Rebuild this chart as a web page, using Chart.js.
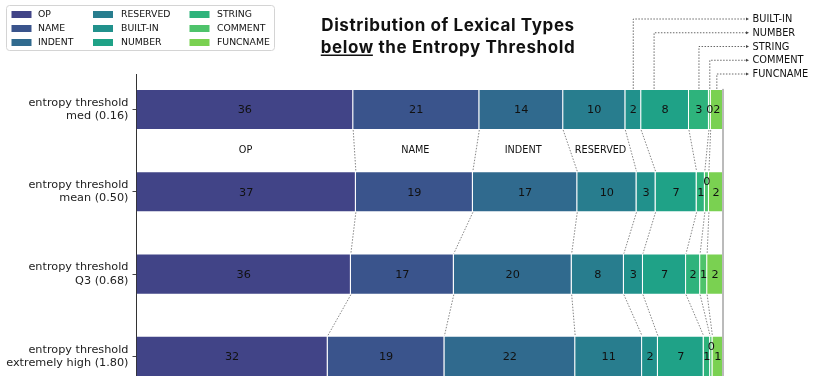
<!DOCTYPE html>
<html>
<head>
<meta charset="utf-8">
<script src="https://cdn.jsdelivr.net/npm/chart.js@4.4.1/dist/chart.umd.min.js"></script>
<style>
  html, body { margin: 0; padding: 0; background: #fff; }
  #wrap { width: 830px; height: 376px; }
</style>
</head>
<body>
<div id="wrap"><canvas id="chart" width="830" height="376"></canvas></div>
<script>
// rows of the chart (top to bottom)
const thresholds = [
  ["entropy threshold", "med (0.16)"],
  ["entropy threshold", "mean (0.50)"],
  ["entropy threshold", "Q3 (0.68)"],
  ["entropy threshold", "extremely high (1.80)"],
];

const tokenTypes = ["OP", "NAME", "INDENT", "RESERVED", "BUILT-IN", "NUMBER", "STRING", "COMMENT", "FUNCNAME"];

// share (%) of each lexical type, one value per threshold row
const opShare       = [36.95, 37.4, 36.55, 32.6];
const nameShare     = [21.5, 19.95, 17.55, 19.9];
const indentShare   = [14.3, 17.8, 20.1, 22.3];
const reservedShare = [10.6, 10.1, 8.9, 11.4];
const builtinShare  = [2.7, 3.25, 3.25, 2.7];
const numberShare   = [8.15, 7.0, 7.35, 7.8];
const stringShare   = [3.4, 1.4, 2.4, 1.1];
const commentShare  = [0.3, 0.7, 1.2, 0.4];
const funcnameShare = [2.1, 2.4, 2.7, 1.8];

const shares = [opShare, nameShare, indentShare, reservedShare, builtinShare,
                numberShare, stringShare, commentShare, funcnameShare];

// viridis, 0.2 -> 0.8
const typeColors = ["#414487", "#3a548c", "#306a8e", "#287d8e", "#21918c",
                    "#1fa287", "#2eb37c", "#4ec36b", "#7ad151"];

const labelFont = "DejaVu Sans";

// big types get a label in the gap, small ones get a callout on the right
const gapLabelTypes = 4;
const calloutShift = { NUMBER: -11 };

const annotatePlugin = {
  id: "annotate",
  afterDatasetsDraw(chart) {
    const ctx = chart.ctx;
    const metas = chart.data.datasets.map((_, k) => chart.getDatasetMeta(k));
    const bar = (k, i) => metas[k].data[i].getProps(["x", "y", "base", "height"], true);

    ctx.save();

    // dotted connectors between segment boundaries of consecutive rows
    ctx.strokeStyle = "#666";
    ctx.lineWidth = 0.8;
    ctx.setLineDash([1.5, 1.5]);
    for (let i = 0; i < thresholds.length - 1; i++) {
      for (let k = 0; k < tokenTypes.length - 1; k++) {
        const a = bar(k, i), b = bar(k, i + 1);
        ctx.beginPath();
        ctx.moveTo(a.x, a.y + a.height / 2);
        ctx.lineTo(b.x, b.y - b.height / 2);
        ctx.stroke();
      }
    }

    // vertical line at 100%
    const top = bar(0, 0);
    ctx.setLineDash([]);
    ctx.strokeStyle = "#777";
    ctx.lineWidth = 1;
    const xEnd = chart.scales.x.getPixelForValue(100);
    ctx.beginPath();
    ctx.moveTo(xEnd, top.y - top.height / 2);
    ctx.lineTo(xEnd, chart.chartArea.bottom);
    ctx.stroke();

    // value labels (truncated), lifted when they would collide
    ctx.font = "11.25px '" + labelFont + "'";
    ctx.fillStyle = "#111";
    ctx.textAlign = "center";
    ctx.textBaseline = "middle";
    for (let i = 0; i < thresholds.length; i++) {
      let prevRight = -Infinity;
      for (let k = 0; k < tokenTypes.length; k++) {
        const b = bar(k, i);
        const text = String(Math.floor(shares[k][i]));
        const cx = (b.base + b.x) / 2;
        const w = ctx.measureText(text).width;
        if (cx - w / 2 < prevRight - 0.5) {
          ctx.fillText(text, cx, b.y - 9.5);
        } else {
          ctx.fillText(text, cx, b.y + 1);
          prevRight = cx + w / 2;
        }
      }
    }

    // type names in the gap under the first row
    ctx.font = "9.7px '" + labelFont + "'";
    for (let k = 0; k < gapLabelTypes; k++) {
      const a = bar(k, 0), b = bar(k, 1);
      const cx = ((a.base + a.x) / 2 + (b.base + b.x) / 2) / 2;
      const cy = ((a.y + a.height / 2) + (b.y - b.height / 2)) / 2;
      ctx.fillText(tokenTypes[k], cx, cy);
    }

    // callouts for the small types
    ctx.textAlign = "left";
    ctx.font = "9.8px '" + labelFont + "'";
    const arrowX = 749;
    for (let k = gapLabelTypes; k < tokenTypes.length; k++) {
      const j = k - gapLabelTypes;
      const b = bar(k, 0);
      const ax = (b.base + b.x) / 2 + (calloutShift[tokenTypes[k]] || 0);
      const ly = 19 + j * 13.75;
      ctx.strokeStyle = "#444";
      ctx.lineWidth = 0.8;
      ctx.setLineDash([1.5, 1.5]);
      ctx.beginPath();
      ctx.moveTo(ax, b.y - b.height / 2);
      ctx.lineTo(ax, ly);
      ctx.lineTo(arrowX - 2, ly);
      ctx.stroke();
      ctx.setLineDash([]);
      ctx.fillStyle = "#444";
      ctx.beginPath();
      ctx.moveTo(arrowX, ly);
      ctx.lineTo(arrowX - 3, ly - 1.6);
      ctx.lineTo(arrowX - 3, ly + 1.6);
      ctx.closePath();
      ctx.fill();
      ctx.fillStyle = "#111";
      ctx.fillText(tokenTypes[k], arrowX + 3.5, ly + 0.5);
    }

    ctx.restore();
  },
  afterDraw(chart) {
    const ctx = chart.ctx;
    ctx.save();

    // title, with "below" underlined
    const cx = 448;
    ctx.fillStyle = "#111";
    ctx.font = "bold 17px Inter";
    ctx.letterSpacing = "0.6px";
    ctx.textBaseline = "middle";
    ctx.textAlign = "center";
    ctx.fillText("Distribution of Lexical Types", cx, 26);
    const w1 = ctx.measureText("below").width;
    const w2 = ctx.measureText(" the Entropy Threshold").width;
    const x0 = cx - (w1 + w2) / 2;
    ctx.textAlign = "left";
    ctx.fillText("below", x0, 48);
    ctx.fillText(" the Entropy Threshold", x0 + w1, 48);
    ctx.fillRect(x0, 54.5, w1 - 1, 1.5);
    ctx.letterSpacing = "0px";

    // legend, three columns
    ctx.fillStyle = "rgba(255,255,255,0.85)";
    ctx.strokeStyle = "#d4d4d4";
    ctx.lineWidth = 1;
    ctx.beginPath();
    ctx.roundRect(6.5, 5.5, 268, 45, 3);
    ctx.fill();
    ctx.stroke();
    const swatchX = [11.5, 93, 189.5];
    const textX = [38, 121, 217];
    ctx.font = "9.3px '" + labelFont + "'";
    chart.data.datasets.forEach((ds, k) => {
      const col = Math.floor(k / 3), row = k % 3;
      const y = 14.5 + row * 14;
      ctx.fillStyle = ds.backgroundColor;
      ctx.fillRect(swatchX[col], y - 3.5, 20, 7);
      ctx.fillStyle = "#111";
      ctx.fillText(ds.label, textX[col], y + 0.5);
    });

    ctx.restore();
  },
};

new Chart(document.getElementById("chart"), {
  type: "bar",
  data: {
    datasets: tokenTypes.map((t, k) => ({
      label: t,
      data: shares[k].map((v, i) => ({ x: v, y: i })),
      backgroundColor: typeColors[k],
      borderColor: "rgba(255,255,255,0.3)",
      borderWidth: 1,
      barPercentage: 0.5,
      categoryPercentage: 1,
    })),
  },
  options: {
    indexAxis: "y",
    responsive: false,
    animation: false,
    layout: { padding: { top: 74, right: 107, bottom: 0, left: 0 } },
    scales: {
      x: { type: "linear", display: false, stacked: true, min: 0, max: 100 },
      y: {
        type: "linear",
        stacked: true,
        reverse: true,
        offset: false,
        min: -0.431,
        max: 3.238,
        afterBuildTicks: (axis) => { axis.ticks = thresholds.map((_, i) => ({ value: i })); },
        afterFit: (axis) => {
          axis.width = 136.5;
          axis.paddingTop = 0;
          axis.paddingBottom = 0;
        },
        ticks: {
          autoSkip: false,
          padding: 4,
          color: "#222",
          font: { family: labelFont, size: 11.25, lineHeight: 1.2 },
          callback: (value) => thresholds[value],
        },
        grid: { display: true, offset: false, drawOnChartArea: false, drawTicks: true, tickLength: 4, color: "#444" },
        border: { display: true, color: "#333", width: 1 },
      },
    },
    plugins: {
      legend: { display: false },
      tooltip: { enabled: false },
      title: { display: false },
    },
  },
  plugins: [annotatePlugin],
});
</script>
</body>
</html>
